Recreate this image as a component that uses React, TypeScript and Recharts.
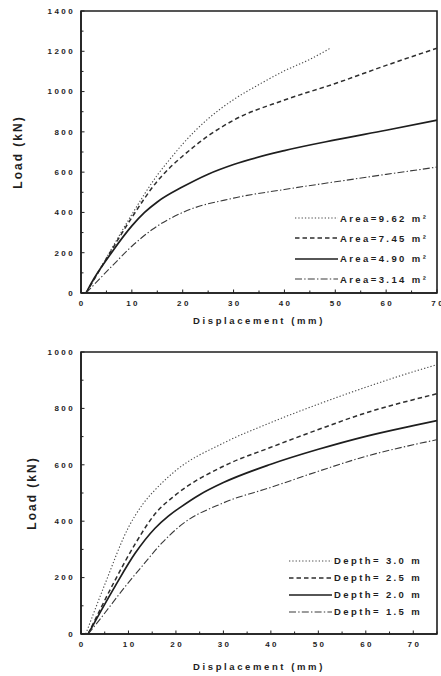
import { Legend, Line, LineChart, ReferenceArea, XAxis, YAxis } from 'recharts'

const font = '"Liberation Sans", Arial, sans-serif'
const ink = '#1e1e1e'

// upper panel: load vs displacement for four plate areas
const areaDisp962 = [1, 5, 10, 15, 18, 20, 25, 30, 35, 40, 45, 49]
const areaLoad962 = [0, 175, 390, 585, 680, 740, 865, 960, 1035, 1103, 1160, 1215]
const areaDisp745 = [1, 5, 10, 15, 18, 20, 25, 30, 40, 50, 60, 70]
const areaLoad745 = [0, 170, 375, 555, 635, 680, 780, 858, 958, 1040, 1130, 1215]
const areaDisp490 = [1, 2, 6, 10, 12.5, 15, 20, 25, 30, 40, 50, 60, 70]
const areaLoad490 = [0, 48, 200, 333, 400, 452, 527, 590, 638, 707, 760, 808, 858]
const areaDisp314 = [1, 6, 10, 14, 20, 30, 40, 50, 60, 70]
const areaLoad314 = [0, 131, 232, 315, 400, 471, 514, 552, 589, 625]
const areaNames = ['Area=9.62 m²', 'Area=7.45 m²', 'Area=4.90 m²', 'Area=3.14 m²']

// lower panel: load vs displacement for four embedment depths
const depthDisp30 = [1, 5, 10, 13, 16, 20, 30, 40, 50, 60, 70, 75]
const depthLoad30 = [0, 175, 378, 460, 518, 580, 677, 750, 815, 875, 930, 955]
const depthDisp25 = [1.5, 7, 11.5, 15.7, 20, 30, 40, 50, 60, 70, 75]
const depthLoad25 = [0, 185, 322, 428, 494, 595, 662, 725, 784, 831, 852]
const depthDisp20 = [1.5, 7.2, 11.4, 15.6, 18.4, 21, 25, 30, 40, 50, 60, 70, 75]
const depthLoad20 = [0, 170, 286, 375, 418, 450, 494, 537, 602, 655, 701, 739, 757]
const depthDisp15 = [1.5, 4.4, 9.3, 12.8, 17, 21, 30, 40, 50, 60, 70, 75]
const depthLoad15 = [0, 61, 168, 239, 322, 385, 465, 520, 577, 630, 671, 689]
const depthNames = ['Depth= 3.0 m', 'Depth= 2.5 m', 'Depth= 2.0 m', 'Depth= 1.5 m']

const topXTicks = [0, 5, 10, 15, 20, 25, 30, 35, 40, 45, 50, 55, 60, 65, 70]
const topYTicks = [0, 100, 200, 300, 400, 500, 600, 700, 800, 900, 1000, 1100, 1200, 1300, 1400]
const bottomXTicks = [0, 5, 10, 15, 20, 25, 30, 35, 40, 45, 50, 55, 60, 65, 70, 75]
const bottomYTicks = [0, 100, 200, 300, 400, 500, 600, 700, 800, 900, 1000]

const strokes = [
    { dash: '1.3 2', width: 1.1, color: '#4a4a4a' },
    { dash: '4.5 3', width: 1.5, color: '#2e2e2e' },
    { dash: undefined, width: 1.7, color: '#1e1e1e' },
    { dash: '7 2.2 1.4 2.2', width: 1.1, color: '#3a3a3a' },
]

function toPoints(disp: number[], load: number[]) {
    return disp.map((d, i) => ({ disp: d, load: load[i] }))
}

const topSeries = [
    toPoints(areaDisp962, areaLoad962),
    toPoints(areaDisp745, areaLoad745),
    toPoints(areaDisp490, areaLoad490),
    toPoints(areaDisp314, areaLoad314),
]
const bottomSeries = [
    toPoints(depthDisp30, depthLoad30),
    toPoints(depthDisp25, depthLoad25),
    toPoints(depthDisp20, depthLoad20),
    toPoints(depthDisp15, depthLoad15),
]

const GAP = 7
const tickText = { fontFamily: font, fontSize: 8, fontWeight: 700, fill: ink, letterSpacing: 2.4 }

function XTick(props: any) {
    const { x, y, payload } = props
    const axisY = y - GAP
    const major = payload.value % 10 === 0
    return (
        <g>
            <line x1={x} x2={x} y1={axisY} y2={axisY - (major ? 3.5 : 2.5)} stroke={ink} strokeWidth={1} />
            {major && (
                <text x={x + 1.2} y={axisY + 7} dy="0.72em" textAnchor="middle" style={tickText}>
                    {payload.value}
                </text>
            )}
        </g>
    )
}

function YTick(props: any) {
    const { x, y, payload } = props
    const axisX = x + GAP
    const major = payload.value % 200 === 0
    return (
        <g>
            <line x1={axisX} x2={axisX + (major ? 3.5 : 2.5)} y1={y} y2={y} stroke={ink} strokeWidth={1} />
            {major && (
                <text x={axisX - 6} y={y} dy="0.35em" textAnchor="end" style={tickText}>
                    {payload.value}
                </text>
            )}
        </g>
    )
}

interface PanelProps {
    height: number
    top: number
    xAxisHeight: number
    xMax: number
    yMax: number
    xTicks: number[]
    yTicks: number[]
    series: { disp: number; load: number }[][]
    names: string[]
    legendLeft: number
    legendTop: number
    rowHeight: number
    lineLength: number
    yLabelOffset: number
}

function Panel(p: PanelProps) {
    const renderLegend = () => (
        <div style={{ fontFamily: font, fontSize: 9.5, fontWeight: 700, color: ink, letterSpacing: 2.4 }}>
            {p.names.map((name, i) => (
                <div key={name} style={{ display: 'flex', alignItems: 'center', height: p.rowHeight, whiteSpace: 'nowrap' }}>
                    <svg width={p.lineLength} height={6} style={{ display: 'block' }}>
                        <line
                            x1={0}
                            x2={p.lineLength}
                            y1={3}
                            y2={3}
                            stroke={strokes[i].color}
                            strokeWidth={strokes[i].width}
                            strokeDasharray={strokes[i].dash}
                        />
                    </svg>
                    <span style={{ marginLeft: 2 }}>{name}</span>
                </div>
            ))}
        </div>
    )

    return (
        <LineChart width={441} height={p.height} margin={{ top: p.top, right: 4, left: 0, bottom: 0 }}>
            <XAxis
                type="number"
                dataKey="disp"
                domain={[0, p.xMax]}
                ticks={p.xTicks}
                interval={0}
                allowDataOverflow
                tickSize={0}
                tickMargin={GAP}
                tick={XTick}
                axisLine={{ stroke: ink, strokeWidth: 1.5 }}
                height={p.xAxisHeight}
                label={{
                    value: 'Displacement (mm)',
                    position: 'insideBottom',
                    offset: 6,
                    style: { fontFamily: font, fontSize: 9.5, fontWeight: 700, fill: ink, letterSpacing: 2.6 },
                }}
            />
            <YAxis
                type="number"
                dataKey="load"
                domain={[0, p.yMax]}
                ticks={p.yTicks}
                interval={0}
                allowDataOverflow
                tickSize={0}
                tickMargin={GAP}
                tick={YTick}
                axisLine={{ stroke: ink, strokeWidth: 1.5 }}
                width={81}
                label={{
                    value: 'Load (kN)',
                    angle: -90,
                    position: 'insideLeft',
                    offset: p.yLabelOffset,
                    style: { fontFamily: font, fontSize: 12, fontWeight: 700, fill: ink, letterSpacing: 2, textAnchor: 'middle' },
                }}
            />
            <ReferenceArea x1={0} x2={p.xMax} y1={0} y2={p.yMax} fill="none" stroke={ink} strokeWidth={1.6} />
            {p.series.map((points, i) => (
                <Line
                    key={p.names[i]}
                    data={points}
                    dataKey="load"
                    name={p.names[i]}
                    type="monotone"
                    stroke={strokes[i].color}
                    strokeWidth={strokes[i].width}
                    strokeDasharray={strokes[i].dash}
                    dot={false}
                    isAnimationActive={false}
                />
            ))}
            <Legend
                layout="vertical"
                align="center"
                verticalAlign="middle"
                content={renderLegend}
                wrapperStyle={{ left: p.legendLeft, top: p.legendTop, width: 'auto' }}
            />
        </LineChart>
    )
}

export default function App() {
    return (
        <div style={{ position: 'absolute', left: 0, top: 0, width: 441, height: 676, background: '#fff' }}>
            <Panel
                height={330}
                top={11}
                xAxisHeight={37}
                xMax={70}
                yMax={1400}
                xTicks={topXTicks}
                yTicks={topYTicks}
                series={topSeries}
                names={areaNames}
                legendLeft={295}
                legendTop={208}
                rowHeight={20.3}
                lineLength={43}
                yLabelOffset={18}
            />
            <Panel
                height={346}
                top={22}
                xAxisHeight={42}
                xMax={75}
                yMax={1000}
                xTicks={bottomXTicks}
                yTicks={bottomYTicks}
                series={bottomSeries}
                names={depthNames}
                legendLeft={289}
                legendTop={222}
                rowHeight={17}
                lineLength={43}
                yLabelOffset={32}
            />
        </div>
    )
}
